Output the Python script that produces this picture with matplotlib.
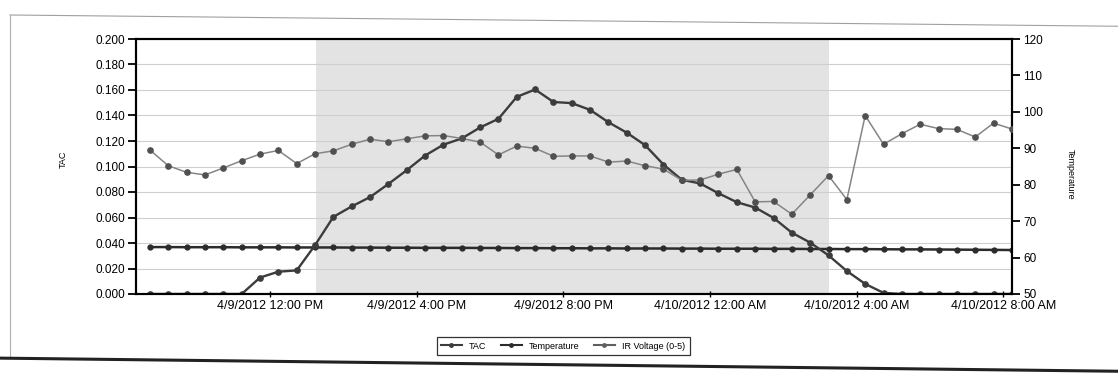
import datetime as dt
import matplotlib
matplotlib.use("Agg")
import matplotlib.pyplot as plt
from matplotlib.ticker import FuncFormatter, MultipleLocator
from matplotlib.lines import Line2D

plt.rcParams['font.family'] = ['Liberation Sans', 'DejaVu Sans']

# readings every 30 min, 4/9/2012 08:44 -> 4/10/2012 08:14
start = dt.datetime(2012, 4, 9, 8, 44)
times = [start + dt.timedelta(minutes=30 * i) for i in range(48)]

tac = [0.0, 0.0, 0.0, 0.0, 0.0, 0.0, 0.0129, 0.0175, 0.0185, 0.0383,
       0.0605, 0.0687, 0.0760, 0.0863, 0.0971, 0.1086, 0.1171, 0.1220,
       0.1306, 0.1374, 0.1546, 0.1604, 0.1506, 0.1497, 0.1444, 0.1347,
       0.1265, 0.1167, 0.1015, 0.0896, 0.0867, 0.0790, 0.0720, 0.0678,
       0.0597, 0.0481, 0.0403, 0.0303, 0.0180, 0.0079, 0.0009, 0.0,
       0.0, 0.0, 0.0, 0.0, 0.0, 0.0]

temperature = [89.5, 85.2, 83.4, 82.7, 84.6, 86.6, 88.4, 89.4, 85.8, 88.5,
               89.3, 91.1, 92.5, 91.8, 92.6, 93.4, 93.5, 92.7, 91.7, 88.2,
               90.6, 90.0, 87.8, 87.9, 87.9, 86.2, 86.5, 85.2, 84.3, 81.2,
               81.3, 82.9, 84.2, 75.3, 75.4, 71.9, 77.2, 82.5, 75.9, 99.0,
               91.1, 94.0, 96.6, 95.4, 95.2, 93.1, 96.9, 95.3]

ir_voltage = [0.0368, 0.0368, 0.0367, 0.0367, 0.0367, 0.0366, 0.0366, 0.0366,
              0.0365, 0.0365, 0.0365, 0.0364, 0.0364, 0.0363, 0.0363, 0.0362,
              0.0362, 0.0362, 0.0361, 0.0361, 0.0360, 0.0360, 0.0359, 0.0359,
              0.0358, 0.0358, 0.0357, 0.0357, 0.0357, 0.0356, 0.0356, 0.0355,
              0.0355, 0.0355, 0.0354, 0.0354, 0.0353, 0.0353, 0.0352, 0.0352,
              0.0351, 0.0350, 0.0350, 0.0349, 0.0348, 0.0347, 0.0346, 0.0345]

tick_times = [dt.datetime(2012, 4, 9, 12), dt.datetime(2012, 4, 9, 16),
              dt.datetime(2012, 4, 9, 20), dt.datetime(2012, 4, 10, 0),
              dt.datetime(2012, 4, 10, 4), dt.datetime(2012, 4, 10, 8)]
shade_start = dt.datetime(2012, 4, 9, 13, 15)
shade_end = dt.datetime(2012, 4, 10, 3, 15)
x_min = dt.datetime(2012, 4, 9, 8, 21)
x_max = dt.datetime(2012, 4, 10, 8, 14)


def fmt_time(v, pos=None):
    d = matplotlib.dates.num2date(v)
    h = d.hour % 12
    if h == 0:
        h = 12
    ampm = "AM" if d.hour < 12 else "PM"
    return "%d/%d/%d %d:%02d %s" % (d.month, d.day, d.year, h, d.minute, ampm)


fig = plt.figure(figsize=(11.18, 3.75), dpi=100)
ax = fig.add_axes([0.1216, 0.216, 0.7835, 0.68])
ax2 = ax.twinx()

ax.axvspan(shade_start, shade_end, color='#e3e3e3', zorder=0, lw=0)
ax.set_ylim(0, 0.2)
ax.yaxis.set_major_locator(MultipleLocator(0.02))
ax.yaxis.set_major_formatter(FuncFormatter(lambda v, p: "%.3f" % v))
ax.grid(axis='y', color='#cfcfcf', lw=0.8, zorder=1)
ax.set_axisbelow(True)

ax.plot(times, ir_voltage, color='#2b2b2b', lw=1.8, marker='o', ms=3.5, zorder=3)
ax.plot(times, tac, color='#3c3c3c', lw=1.7, marker='o', ms=3.8, zorder=4)
ax2.plot(times, temperature, color='#858585', lw=1.1, marker='o', ms=3.8,
         mfc='#505050', mec='#505050', zorder=3)

ax2.set_ylim(50, 120)
ax2.yaxis.set_major_locator(MultipleLocator(10))

ax.set_xlim(x_min, x_max)
ax.set_xticks(tick_times)
ax.xaxis.set_major_formatter(FuncFormatter(fmt_time))

for a in (ax, ax2):
    for s in a.spines.values():
        s.set_linewidth(1.5)
        s.set_color('black')
ax.tick_params(axis='y', direction='out', length=6, width=1.3, labelsize=8.5, pad=2)
ax2.tick_params(axis='y', direction='out', length=6, width=1.3, labelsize=8.5, pad=2)
ax.tick_params(axis='x', direction='inout', length=5, width=1, labelsize=9, pad=2)

ax.set_ylabel("TAC", fontsize=6.5)
ax.yaxis.set_label_coords(-0.078, 0.53)
ax2.set_ylabel("Temperature", fontsize=6.5, rotation=270)
ax2.yaxis.set_label_coords(1.072, 0.47)

handles = [Line2D([], [], color='#3c3c3c', lw=1.5, marker='o', ms=2.5),
           Line2D([], [], color='#2b2b2b', lw=1.5, marker='o', ms=2.5),
           Line2D([], [], color='#606060', lw=1.5, marker='o', ms=2.5)]
leg = fig.legend(handles, ["TAC", "Temperature", "IR Voltage (0-5)"],
                 loc='center', bbox_to_anchor=(0.5036, 0.0773), ncol=3,
                 fontsize=6.5, frameon=True, fancybox=False, edgecolor='black',
                 handlelength=2.3, columnspacing=1.6, borderpad=0.5)
leg.get_frame().set_linewidth(0.9)

# scanned page frame
fig.add_artist(Line2D([0.009, 1.0], [0.96, 0.93], transform=fig.transFigure,
                      color='#a0a0a0', lw=0.8))
fig.add_artist(Line2D([0.009, 0.009], [0.96, 0.045], transform=fig.transFigure,
                      color='#b0b0b0', lw=0.8))
fig.add_artist(Line2D([0.0, 1.0], [0.045, 0.01], transform=fig.transFigure,
                      color='#222222', lw=2.2))

fig.savefig("out.png", dpi=100)
